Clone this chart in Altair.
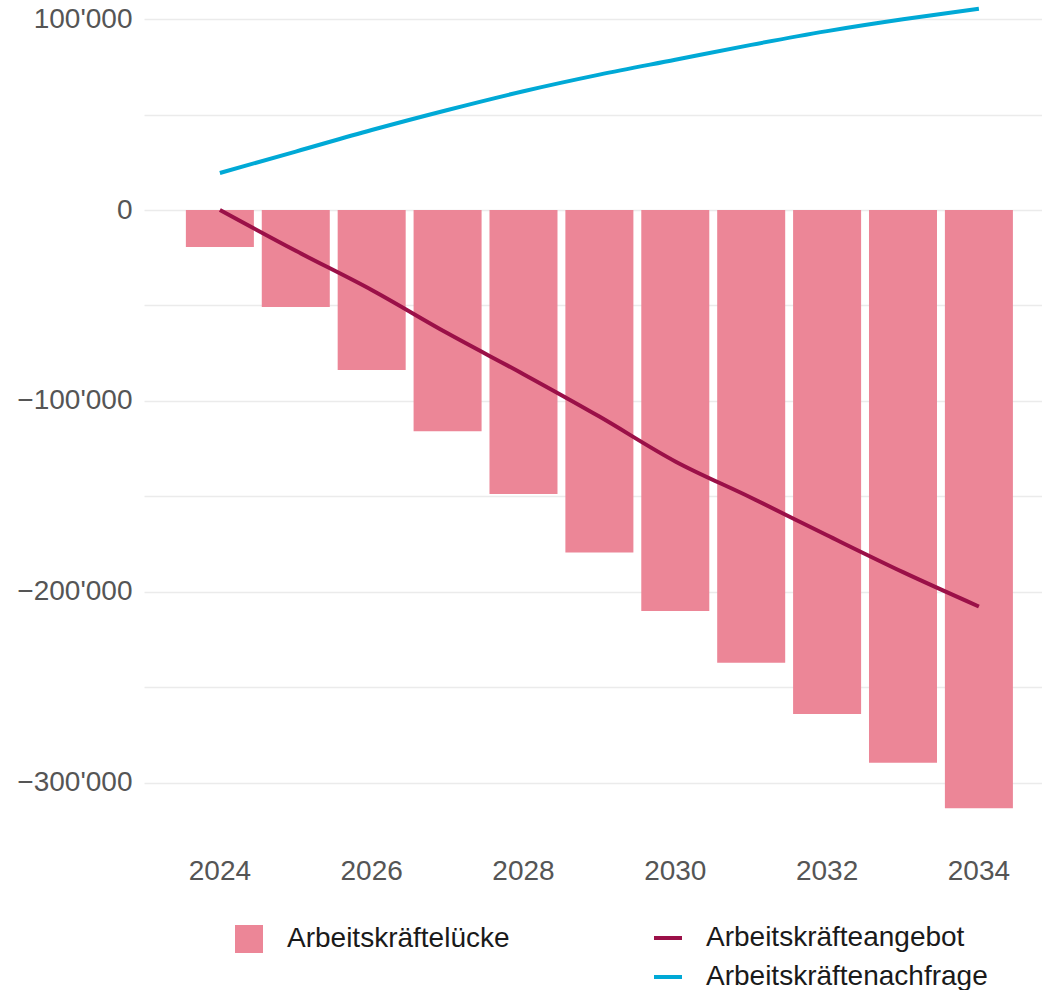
import altair as alt
import pandas as pd

years = [2024, 2025, 2026, 2027, 2028, 2029, 2030, 2031, 2032, 2033, 2034]
gap = [-19400, -50800, -83800, -115900, -148700, -179400, -210100, -237200, -264000, -289500, -313400]
supply = [0, -21400, -41900, -64600, -86000, -108200, -131700, -150700, -170400, -189700, -207700]
demand = [19400, 30600, 41900, 52400, 62200, 70900, 78700, 86500, 93700, 99900, 105400]

gap_label = "Arbeitskräftelücke"
series_names = ["Arbeitskräfteangebot", "Arbeitskräftenachfrage"]
year_ticks = [2024, 2026, 2028, 2030, 2032, 2034]
y_grid = [100000, 50000, 0, -50000, -100000, -150000, -200000, -250000, -300000]

bars_df = pd.DataFrame({"year": years, "gap": gap, "label": [gap_label] * len(years)})
lines_df = pd.DataFrame({
    "year": years * 2,
    "value": supply + demand,
    "series": [series_names[0]] * len(years) + [series_names[1]] * len(years),
})

FONT = "Liberation Sans"

xscale = alt.Scale(paddingInner=0.104, paddingOuter=0.4675, align=0.59)
xaxis = alt.Axis(values=year_ticks, title=None, domain=False, ticks=False, grid=False,
                 labelAngle=0, labelFontSize=28, labelColor="#555555", labelPadding=17, labelFont=FONT)
yscale = alt.Scale(domain=[-330000, 110000], nice=False, zero=False)
yaxis = alt.Axis(values=y_grid, title=None, domain=False, ticks=False, grid=True,
                 gridColor="#ebebeb", gridWidth=1.5, labelFontSize=28, labelColor="#555555",
                 labelPadding=12, labelFont=FONT,
                 labelExpr="datum.value % 100000 == 0 ? replace(format(datum.value, ','), ',', \"'\") : ''")

bars = alt.Chart(bars_df).mark_bar(color="#ec8697").encode(
    x=alt.X("year:O", scale=xscale, axis=xaxis),
    y=alt.Y("gap:Q", scale=yscale, axis=yaxis),
    fill=alt.Fill("label:N", scale=alt.Scale(domain=[gap_label], range=["#ec8697"]),
                  legend=alt.Legend(orient="none", legendX=91, legendY=925, title=None,
                                    symbolType="square", symbolSize=784, symbolStrokeWidth=0,
                                    labelFontSize=28, labelFont=FONT, labelColor="#1a1a1a",
                                    labelOffset=24, labelLimit=0, padding=0)),
)

lines = alt.Chart(lines_df).mark_line(strokeWidth=4, interpolate="monotone").encode(
    x=alt.X("year:O", scale=xscale, axis=xaxis),
    y=alt.Y("value:Q", scale=yscale, axis=yaxis),
    stroke=alt.Stroke("series:N", scale=alt.Scale(domain=series_names, range=["#9b1048", "#00a9d6"]),
                      legend=alt.Legend(orient="none", legendX=508, legendY=922, title=None,
                                        symbolType="stroke", symbolSize=784, symbolStrokeWidth=4,
                                        labelFontSize=28, labelFont=FONT, labelColor="#1a1a1a",
                                        labelOffset=22, labelLimit=0, rowPadding=9, padding=0)),
)

chart = alt.layer(bars, lines).properties(
    width=898, height=840,
    autosize=alt.AutoSizeParams(type="none"),
    padding={"left": 144, "top": 0, "right": 0, "bottom": 150},
).configure(font=FONT).configure_view(stroke="transparent", strokeWidth=0)

chart.save("out.html", embed_options={"renderer": "svg", "actions": False})
